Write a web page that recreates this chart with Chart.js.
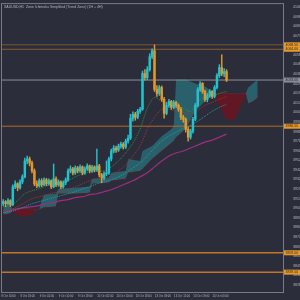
<!DOCTYPE html>
<html>
<head>
<meta charset="utf-8">
<script src="https://cdn.jsdelivr.net/npm/chart.js@4.4.1/dist/chart.umd.min.js"></script>
<style>
  html, body { margin: 0; padding: 0; background: #2c2d3a; }
  #wrap { width: 300px; height: 300px; position: relative; }
</style>
</head>
<body>
<div id="wrap"><canvas id="myChart"></canvas></div>
<script>
// H1 candles
const opens = [3908.5, 3910.5, 3908.5, 3911.5, 3907.5, 3925.5, 3928.5, 3924.5, 3930.5, 3935.5,
  3951.5, 3953.5, 3949.5, 3941.5, 3928.5, 3926.5, 3931.5, 3927.5, 3932.5, 3928.5,
  3931.5, 3925.5, 3933.5, 3927.5, 3930.5, 3925.5, 3929.5, 3932.5, 3941.5, 3943.5,
  3939.5, 3944.5, 3941.5, 3945.5, 3939.5, 3943.5, 3946.5, 3941.5, 3945.5, 3942.5,
  3946.5, 3937.5, 3934.5, 3938.5, 3939.5, 3953.5, 3961.5, 3964.5, 3962.5, 3966.5,
  3968.5, 3965.5, 3971.5, 3974.5, 3994.5, 3998.5, 3995.5, 4001.5, 4003.5, 4039.5,
  4035.5, 4043.5, 4056.5, 4062.5, 4023.5, 4019.5, 4025.5, 4013.5, 3999.5, 4007.5,
  4011.5, 4005.5, 4010.5, 4007.5, 4003.5, 3995.5, 3993.5, 3983.5, 3975.5, 3981.5,
  3993.5, 4007.5, 4023.5, 4029.5, 4021.5, 4013.5, 4017.5, 4021.5, 4016.5, 4025.5,
  4037.5, 4045.5, 4039.5, 4041.5];
const highs = [3912.5, 3911.5, 3913.5, 3912.5, 3927.5, 3931.5, 3929.5, 3932.5, 3937.5, 3954.5,
  3956.5, 3955.5, 3951.5, 3943.5, 3931.5, 3933.5, 3933.5, 3934.5, 3934.0, 3933.5,
  3932.5, 3948.5, 3935.5, 3932.5, 3931.5, 3931.5, 3934.5, 3943.5, 3946.5, 3945.0,
  3946.5, 3946.0, 3947.5, 3946.5, 3945.5, 3948.5, 3947.5, 3947.0, 3946.5, 3963.5,
  3948.0, 3939.0, 3940.5, 3951.5, 3955.5, 3963.5, 3967.0, 3966.5, 3968.5, 3970.5,
  3970.0, 3973.5, 3977.5, 3998.5, 4001.0, 4000.5, 4003.5, 4005.5, 4042.0, 4043.5,
  4046.5, 4059.5, 4064.5, 4068.5, 4027.5, 4027.5, 4027.0, 4015.5, 4010.5, 4013.5,
  4012.5, 4012.5, 4011.5, 4009.0, 4005.5, 3997.5, 3995.0, 3985.5, 3983.5, 3995.5,
  4009.5, 4025.5, 4031.5, 4030.5, 4023.0, 4019.5, 4023.5, 4022.5, 4027.5, 4039.5,
  4048.5, 4058.5, 4044.5, 4043.5];
const lows = [3906.5, 3905.5, 3907.0, 3905.5, 3906.5, 3923.5, 3921.5, 3923.0, 3928.5, 3934.5,
  3948.5, 3946.5, 3939.5, 3926.5, 3924.5, 3925.0, 3925.5, 3926.5, 3926.5, 3927.0,
  3923.5, 3924.5, 3925.5, 3926.0, 3923.5, 3924.0, 3927.5, 3931.0, 3939.5, 3937.5,
  3938.0, 3939.5, 3940.0, 3937.5, 3938.0, 3942.0, 3939.5, 3940.0, 3940.5, 3941.0,
  3935.5, 3929.5, 3932.5, 3936.5, 3938.0, 3951.5, 3959.5, 3960.0, 3961.0, 3964.5,
  3963.5, 3964.0, 3969.5, 3973.0, 3991.5, 3992.5, 3994.0, 3999.5, 4002.5, 4033.0,
  4033.5, 4042.0, 4054.5, 4021.5, 4016.5, 4017.5, 4011.5, 3994.5, 3998.0, 4005.5,
  4003.5, 4004.0, 4005.5, 4001.5, 3993.0, 3990.5, 3980.5, 3971.5, 3973.5, 3979.5,
  3992.0, 4006.0, 4021.5, 4019.5, 4011.5, 4011.0, 4015.5, 4014.5, 4015.0, 4024.0,
  4035.5, 4037.5, 4036.5, 4031.5];
const closes = [3910.5, 3908.5, 3911.5, 3907.5, 3925.5, 3928.5, 3924.5, 3930.5, 3935.5, 3951.5,
  3953.5, 3949.5, 3941.5, 3928.5, 3926.5, 3931.5, 3927.5, 3932.5, 3928.5, 3931.5,
  3925.5, 3933.5, 3927.5, 3930.5, 3925.5, 3929.5, 3932.5, 3941.5, 3943.5, 3939.5,
  3944.5, 3941.5, 3945.5, 3939.5, 3943.5, 3946.5, 3941.5, 3945.5, 3942.5, 3946.5,
  3937.5, 3934.5, 3938.5, 3939.5, 3953.5, 3961.5, 3964.5, 3962.5, 3966.5, 3968.5,
  3965.5, 3971.5, 3974.5, 3994.5, 3998.5, 3995.5, 4001.5, 4003.5, 4039.5, 4035.5,
  4043.5, 4056.5, 4062.5, 4023.5, 4019.5, 4025.5, 4013.5, 3999.5, 4007.5, 4011.5,
  4005.5, 4010.5, 4007.5, 4003.5, 3995.5, 3993.5, 3983.5, 3975.5, 3981.5, 3993.5,
  4007.5, 4023.5, 4029.5, 4021.5, 4013.5, 4017.5, 4021.5, 4016.5, 4025.5, 4037.5,
  4045.5, 4039.5, 4041.5, 4033.0];

// moving averages, sampled every 3 bars
const maBars = [0, 3, 6, 9, 12, 15, 18, 21, 24, 27, 30, 33, 36, 39, 42, 45,
  48, 51, 54, 57, 60, 63, 66, 69, 72, 75, 78, 81, 84, 87, 90, 93];
const maFast = [3905.5, 3906.5, 3911.5, 3918.5, 3921.5, 3923.5, 3926.5, 3928.5, 3929.5, 3931.5, 3935.5,
  3938.5, 3940.5, 3941.5, 3941.5, 3945.5, 3951.5, 3959.5, 3969.5, 3983.5, 4004.5, 4015.5,
  4011.5, 4008.5, 4006.5, 4004.5, 4001.5, 4011.5, 4015.5, 4016.5, 4019.5, 4021.5];
const maMid = [3901.5, 3902.5, 3905.5, 3909.5, 3913.5, 3915.5, 3917.5, 3919.5, 3920.5, 3922.5, 3925.5,
  3928.5, 3931.5, 3933.5, 3934.5, 3936.5, 3941.5, 3947.5, 3956.5, 3966.5, 3983.5, 3995.5,
  4003.5, 4003.5, 4001.5, 4000.5, 3999.5, 4002.5, 4007.5, 4010.5, 4013.5, 4016.5];
const maSlow = [3899.5, 3900.5, 3902.5, 3905.5, 3908.5, 3910.5, 3912.5, 3914.5, 3916.5, 3918.5, 3920.5,
  3923.5, 3925.5, 3928.5, 3930.5, 3932.5, 3935.5, 3939.5, 3944.5, 3949.5, 3956.5, 3964.5,
  3971.5, 3976.5, 3980.5, 3984.5, 3987.5, 3991.5, 3996.5, 4001.5, 4005.5, 4008.5];
const maTrend = [3899.5, 3901.5, 3903.5, 3904.5, 3905.5, 3906.5, 3908.5, 3909.5, 3911.5, 3912.5, 3914.5,
  3915.5, 3917.5, 3918.5, 3920.5, 3922.5, 3925.5, 3928.5, 3931.5, 3935.5, 3939.5, 3945.5,
  3951.5, 3956.5, 3959.5, 3961.5, 3964.5, 3967.5, 3970.5, 3972.5, 3975.5, 3978.5];

// cloud (span A / span B), shifted ahead of price
const cloudBars = [0, 3, 4, 5, 8, 11, 13, 15, 16, 17, 22, 23, 30, 36, 37, 44, 45, 51, 52, 57, 58,
  62, 66, 70, 71, 72, 76, 80, 84, 87, 88, 89, 91, 93, 96, 98, 100, 101, 102, 104, 106];
const spanA = [3906.5, 3906.5, 3902.5, 3897.5, 3895.5, 3896.5, 3899.5, 3902.5, 3911.5, 3917.5, 3918.5,
  3923.5, 3924.5, 3925.5, 3933.5, 3934.5, 3939.5, 3941.5, 3953.5, 3951.5, 3961.5,
  3966.5, 3976.5, 3983.5, 3986.5, 4033.5, 4033.5, 4029.5, 4026.5, 4021.5, 4018.5, 4011.5,
  4001.5, 3993.5, 3992.5, 4001.5, 4013.5, 4019.5, 4025.5, 4029.5, 4033.5];
const spanB = [3897.5, 3898.5, 3902.5, 3903.5, 3903.5, 3903.5, 3902.5, 3902.5, 3903.5, 3904.5, 3905.5,
  3918.5, 3918.5, 3919.5, 3928.5, 3929.5, 3931.5, 3933.5, 3939.5, 3941.5, 3943.5,
  3953.5, 3961.5, 3969.5, 3971.5, 3975.5, 3983.5, 4001.5, 4011.5, 4017.5, 4019.5, 4019.5,
  4019.5, 4019.5, 4019.5, 4019.5, 4019.5, 4019.5, 4009.5, 4011.5, 4015.5];

// levels and current price
const levels = [4068.5, 4064.0, 3986.5, 3859.0, 3839.5];
const levelColors = ['#7a5430', '#8a5a2e', '#b06c2a', '#c27628', '#c27628'];
const levelWidths = [1, 1, 1, 1.5, 1.5];
const lastPrice = 4033.0;

// axes
const yTicks = [4106.54, 4096.89, 4087.24, 4077.59, 4067.94, 4058.29, 4048.64, 4038.99, 4029.34,
  4019.69, 4010.04, 4000.39, 3990.74, 3981.09, 3971.44, 3961.79, 3952.14, 3942.49, 3932.84,
  3923.19, 3913.54, 3903.89, 3894.24, 3884.59, 3874.94, 3865.29, 3855.64, 3845.99, 3836.34, 3826.69];
const xTickBars = [0, 8, 16, 24, 32, 40, 48, 56, 64, 72, 80, 88];
const xTickLabels = ['8 Oct 10:00', '8 Oct 18:00', '9 Oct 02:00', '9 Oct 10:00', '9 Oct 18:00',
  '10 Oct 02:00', '10 Oct 10:00', '10 Oct 18:00', '13 Oct 03:00', '13 Oct 11:00', '13 Oct 19:00', '14 Oct 03:00'];
const titleText = 'XAUUSD,H1  Zone Ichimoku Simplified (Trend Zone) (1H + 4H)';

const UP = '#22c3cd';
const DOWN = '#e0982e';
const BG = '#2c2d3a';
const TXT = '#b4b6c0';
const tinyFont = { family: 'Liberation Sans', size: 3.5 };

const candleColor = (c) => closes[c.dataIndex] >= opens[c.dataIndex] ? UP : DOWN;
const pts = (xs, ys) => ys.map((v, i) => ({ x: xs[i], y: v }));

const datasets = [
  {
    type: 'bar', label: 'body', grouped: false, barThickness: 1.8,
    data: opens.map((o, i) => ({ x: i, y: [o, closes[i]] })),
    backgroundColor: candleColor, borderWidth: 0, minBarLength: 0.6
  },
  {
    type: 'bar', label: 'wick', grouped: false, barThickness: 0.8,
    data: lows.map((l, i) => ({ x: i, y: [l, highs[i]] })),
    backgroundColor: candleColor, borderWidth: 0
  },
  { type: 'line', label: 'fast', data: pts(maBars, maFast), borderColor: '#2f8c43', borderWidth: 1, borderDash: [1, 1], pointRadius: 0, tension: 0.3 },
  { type: 'line', label: 'mid', data: pts(maBars, maMid), borderColor: '#a3352f', borderWidth: 1, borderDash: [1, 1], pointRadius: 0, tension: 0.3 },
  { type: 'line', label: 'slow', data: pts(maBars, maSlow), borderColor: '#2b9aa0', borderWidth: 1, borderDash: [1, 1], pointRadius: 0, tension: 0.3 },
  { type: 'line', label: 'trend', data: pts(maBars, maTrend), borderColor: '#9a2f7e', borderWidth: 1.2, pointRadius: 0, tension: 0.3 },
  { type: 'line', label: 'last', data: [{ x: -0.5, y: lastPrice }, { x: 116.5, y: lastPrice }], borderColor: '#8b8d98', borderWidth: 1, pointRadius: 0 }
];
levels.forEach((lv, k) => {
  datasets.push({ type: 'line', label: 'level' + k, data: [{ x: -0.5, y: lv }, { x: 116.5, y: lv }],
    borderColor: levelColors[k], borderWidth: levelWidths[k], pointRadius: 0 });
});
const spanAIndex = datasets.length;
datasets.push({
  type: 'line', label: 'spanA', data: pts(cloudBars, spanA), borderWidth: 0, pointRadius: 0,
  fill: { target: spanAIndex + 1, above: 'rgba(38,140,150,0.55)', below: 'rgba(115,18,30,0.75)' }
});
datasets.push({
  type: 'line', label: 'spanB', data: pts(cloudBars, spanB), borderColor: 'rgba(120,30,40,0.8)', borderWidth: 0.6, pointRadius: 0
});

const chartStyle = {
  id: 'chartStyle',
  beforeDraw(chart) {
    const c = chart.ctx;
    c.save();
    c.fillStyle = BG;
    c.fillRect(0, 0, chart.width, chart.height);
    c.restore();
  },
  afterDraw(chart) {
    const c = chart.ctx, a = chart.chartArea, x = chart.scales.x, y = chart.scales.y;
    c.save();
    c.strokeStyle = '#787a85';
    c.lineWidth = 1;
    c.strokeRect(a.left - 0.5, a.top - 0.5, a.right - a.left + 1, a.bottom - a.top + 1);
    c.font = '3.5px "Liberation Sans"';
    c.textBaseline = 'middle';
    c.fillStyle = TXT;
    c.fillText(titleText, a.left + 2, a.top + 2.5);
    // time labels under the bars
    c.font = '2.8px "Liberation Sans"';
    c.textAlign = 'left';
    xTickBars.forEach((b, k) => {
      c.fillText(xTickLabels[k], x.getPixelForValue(b) - 2, a.bottom + 4);
    });
    c.font = '3.5px "Liberation Sans"';
    const tag = (v, fill, txt) => {
      const py = y.getPixelForValue(v);
      c.fillStyle = fill;
      c.fillRect(a.right + 1, py - 2.5, 16, 5);
      c.fillStyle = txt;
      c.fillText(v.toFixed(2), a.right + 2.5, py);
    };
    levels.forEach(lv => tag(lv, '#e39a2d', '#3a2a18'));
    tag(lastPrice, '#8b8d98', '#2c2d3a');
    c.restore();
  }
};

const chart = new Chart(document.getElementById('myChart').getContext('2d'), {
  type: 'bar',
  data: { datasets },
  options: {
    responsive: true,
    maintainAspectRatio: false,
    animation: false,
    events: [],
    layout: { padding: { left: 2, top: 2, right: 0, bottom: 0 } },
    plugins: { legend: { display: false }, tooltip: { enabled: false } },
    scales: {
      x: {
        type: 'linear', min: -0.5, max: 116.5, offset: false,
        grid: { display: false },
        border: { color: '#787a85' },
        afterBuildTicks: (s) => { s.ticks = xTickBars.map(v => ({ value: v })); },
        afterFit: (s) => { s.height = 8; },
        ticks: { display: false }
      },
      y: {
        position: 'right', min: 3819.5, max: 4109.5,
        grid: { display: false },
        border: { color: '#787a85' },
        afterBuildTicks: (s) => { s.ticks = yTicks.map(v => ({ value: v })); },
        afterFit: (s) => { s.width = 17; },
        ticks: {
          padding: 2, color: TXT, font: tinyFont,
          callback: (v) => v.toFixed(2)
        }
      }
    }
  },
  plugins: [chartStyle]
});
</script>
</body>
</html>
